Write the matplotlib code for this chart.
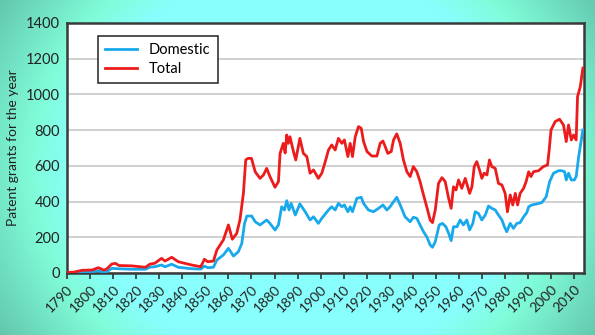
import numpy as np
import matplotlib
matplotlib.use("Agg")
import matplotlib.pyplot as plt
from matplotlib.colors import LinearSegmentedColormap

plt.rcParams['font.family'] = ['Lato', 'DejaVu Sans']

# values
total_years = [1790.0, 1793.0, 1796.5, 1801.0, 1803.6, 1805.8, 1807.0, 1809.4, 1811.0, 1812.5,
               1818.0, 1822.0, 1824.0, 1826.0, 1828.0, 1831.0, 1832.5, 1835.4, 1838.3, 1844.0,
               1848.0, 1849.6, 1851.0, 1853.5, 1855.0, 1857.8, 1860.0, 1861.7, 1863.6, 1865.0,
               1866.5, 1867.5, 1868.5, 1870.0, 1871.6, 1873.7, 1875.2, 1876.6, 1878.0, 1880.2,
               1881.7, 1882.4, 1883.8, 1884.6, 1885.3, 1886.0, 1886.7, 1888.2, 1889.2, 1891.0,
               1892.5, 1894.0, 1895.4, 1896.9, 1899.0, 1900.5, 1902.0, 1903.4, 1904.8, 1906.3,
               1907.7, 1909.2, 1910.3, 1911.8, 1912.8, 1913.8, 1915.0, 1916.4, 1917.6, 1918.6,
               1920.1, 1922.2, 1924.4, 1925.8, 1927.0, 1928.0, 1929.1, 1930.6, 1931.6, 1933.0,
               1934.5, 1935.9, 1937.4, 1938.8, 1940.2, 1941.7, 1943.1, 1944.6, 1946.0, 1947.5,
               1948.5, 1949.7, 1951.1, 1952.6, 1954.0, 1955.5, 1956.6, 1957.6, 1958.7, 1959.8,
               1961.2, 1962.7, 1964.6, 1965.6, 1966.6, 1967.7, 1968.9, 1969.9, 1970.9, 1972.1,
               1973.2, 1974.2, 1975.7, 1977.1, 1978.6, 1980.0, 1981.0, 1982.2, 1983.3, 1984.4,
               1985.4, 1986.5, 1988.0, 1989.1, 1990.2, 1991.2, 1992.3, 1994.5, 1996.6, 1998.4,
               1999.1, 1999.9, 2001.7, 2003.6, 2005.3, 2006.5, 2007.5, 2008.7, 2009.7, 2010.8,
               2011.4, 2012.6, 2013.7]
total_vals = [3, 5, 15, 17, 30, 17, 20, 50, 54, 42,
              40, 35, 32, 50, 54, 82, 67, 88, 63, 45,
              35, 77, 63, 67, 129, 185, 269, 189, 222, 297,
              446, 633, 642, 642, 567, 530, 549, 586, 540, 480,
              512, 670, 726, 672, 773, 726, 763, 680, 633, 754,
              670, 652, 559, 577, 530, 559, 624, 689, 717, 689,
              754, 726, 745, 652, 726, 652, 763, 820, 810, 736,
              680, 655, 655, 726, 739, 708, 670, 680, 745, 779,
              726, 633, 567, 540, 596, 567, 512, 437, 371, 297,
              282, 353, 502, 534, 512, 418, 362, 483, 465, 521,
              474, 530, 446, 483, 596, 624, 577, 530, 559, 549,
              633, 596, 586, 502, 493, 446, 343, 437, 381, 446,
              381, 446, 474, 512, 567, 540, 567, 573, 596, 605,
              689, 801, 848, 861, 829, 736, 829, 745, 773, 745,
              988, 1044, 1147]

domestic_years = [1790.0, 1796.0, 1801.0, 1803.6, 1805.8, 1807.0, 1809.4, 1812.0, 1818.0, 1824.0,
                  1826.0, 1828.0, 1831.0, 1832.5, 1835.4, 1838.3, 1844.0, 1848.0, 1849.6, 1851.0,
                  1853.5, 1855.0, 1857.8, 1860.0, 1862.2, 1864.3, 1865.8, 1867.0, 1868.0, 1870.1,
                  1871.6, 1873.7, 1876.6, 1878.0, 1880.2, 1881.7, 1883.1, 1884.3, 1885.3, 1886.3,
                  1887.2, 1889.0, 1891.0, 1893.3, 1895.4, 1896.9, 1899.0, 1900.5, 1903.4, 1904.8,
                  1906.3, 1907.7, 1909.2, 1910.3, 1911.8, 1912.8, 1913.8, 1915.7, 1917.6, 1918.6,
                  1920.7, 1922.9, 1925.1, 1927.0, 1928.7, 1930.1, 1931.6, 1933.0, 1934.5, 1936.6,
                  1938.8, 1940.2, 1941.7, 1943.1, 1944.6, 1946.0, 1947.5, 1948.5, 1949.7, 1951.4,
                  1952.8, 1954.3, 1955.5, 1956.6, 1957.6, 1959.1, 1960.5, 1961.9, 1963.4, 1964.6,
                  1966.0, 1967.0, 1968.4, 1969.9, 1971.4, 1972.8, 1974.2, 1975.7, 1977.1, 1978.6,
                  1979.7, 1980.7, 1982.2, 1983.6, 1985.1, 1986.5, 1988.0, 1989.4, 1990.2, 1991.6,
                  1993.7, 1995.9, 1997.8, 1999.3, 2001.0, 2003.2, 2004.6, 2005.8, 2006.5, 2007.5,
                  2008.7, 2010.0, 2010.8, 2011.9, 2013.7]
domestic_vals = [0, 5, 8, 13, 3, 5, 26, 24, 21, 21,
                 33, 35, 45, 35, 49, 32, 24, 22, 39, 30,
                 32, 73, 101, 138, 95, 119, 166, 278, 319, 319,
                 287, 269, 297, 278, 241, 269, 371, 353, 405, 353,
                 390, 325, 387, 343, 297, 315, 278, 306, 353, 371,
                 353, 390, 371, 381, 343, 371, 343, 418, 424, 390,
                 353, 343, 362, 381, 353, 371, 399, 424, 381, 315,
                 287, 312, 306, 269, 231, 203, 157, 144, 175, 269,
                 278, 259, 222, 181, 259, 259, 297, 269, 297, 241,
                 278, 343, 334, 297, 325, 375, 362, 353, 325, 297,
                 259, 231, 278, 250, 278, 282, 315, 338, 371, 381,
                 387, 394, 427, 512, 559, 573, 573, 567, 521, 559,
                 521, 521, 540, 652, 800]

year_ticks = list(range(1790, 2011, 10))
value_ticks = list(range(0, 1401, 200))

fig = plt.figure(figsize=(5.95, 3.35), dpi=100)

# radial teal/cyan background
bg = fig.add_axes([0, 0, 1, 1])
xx, yy = np.meshgrid(np.linspace(0, 595, 300), np.linspace(0, 335, 170))
r = np.sqrt(((xx - 300) / 260.0) ** 2 + ((yy - 167) / 230.0) ** 2)
cmap = LinearSegmentedColormap.from_list(
    'bg', [(0.0, '#8cffff'), (0.62, '#88fffc'), (0.74, '#80fcd8'), (1.0, '#60c2aa')])
bg.imshow(np.clip(r / 1.4, 0, 1), cmap=cmap, vmin=0, vmax=1, aspect='auto',
          extent=[0, 595, 335, 0], interpolation='bicubic')
bg.axis('off')

ax = fig.add_axes([67 / 595, 62 / 335, 517 / 595, 250 / 335])
ax.set_facecolor('white')
ax.plot(domestic_years, domestic_vals, color='#18a8ec', lw=2, label='Domestic', zorder=3)
ax.plot(total_years, total_vals, color='#ec1c1c', lw=2, label='Total', zorder=3)

ax.set_xlim(1790, 2014.2)
ax.set_ylim(0, 1400)
ax.set_xticks(year_ticks)
ax.set_xticklabels([str(y) for y in year_ticks], rotation=45, ha='right',
                   rotation_mode='anchor', fontsize=10, color='#222222')
ax.set_yticks(value_ticks)
ax.set_yticklabels([str(v) for v in value_ticks], fontsize=10.5, color='#222222')
ax.tick_params(axis='x', length=4, width=1.2, color='#333333', pad=3)
ax.tick_params(axis='y', length=0, pad=5)
ax.grid(axis='y', color='#c8c8c8', lw=1.2, zorder=1)
ax.set_axisbelow(True)
for s in ax.spines.values():
    s.set_color('#3a3a3a')
    s.set_linewidth(1.8)

ax.set_ylabel('Patent grants for the year', fontsize=10, color='#222222', labelpad=5)

leg = ax.legend(loc='upper left', bbox_to_anchor=(0.06, 0.948), borderaxespad=0,
                fontsize=10.5, fancybox=False, framealpha=1, handlelength=2.2,
                borderpad=0.5, labelspacing=0.3)
leg.get_frame().set_edgecolor('#333333')
leg.get_frame().set_linewidth(1.2)

fig.savefig('out.png', dpi=100)
